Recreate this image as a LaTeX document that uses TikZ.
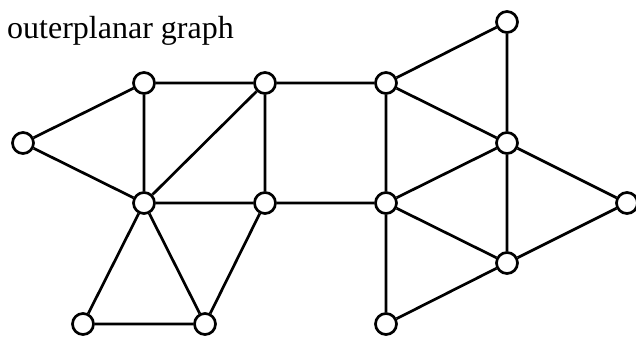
\documentclass[tikz,border=0pt]{standalone}
\usepackage{fontspec}
\setmainfont{Liberation Serif}
\usepackage{tikz}
\usetikzlibrary{positioning}
\tikzset{
  vtx/.style={circle,draw,fill=white,line width=2.7pt,minimum size=21pt,inner sep=0pt},
  edge/.style={line width=2.7pt}
}

\begin{document}
\begin{tikzpicture}[x=1pt,y=-1pt]
    \useasboundingbox (0,0) rectangle (636,337);
    \node[anchor=base west,font=\fontsize{32}{36}\selectfont,inner sep=0pt] (title) at (7,38) {outerplanar graph};
    % left part
    \node[vtx] (a) at (23,143) {};
    \node[vtx] (b) at (144,83) {};
    \node[vtx] (c) at (265,83) {};
    \node[vtx] (h) at (144,203) {};
    \node[vtx] (i) at (265,203) {};
    \node[vtx] (l) at (83,324) {};
    \node[vtx] (m) at (205,324) {};
    % right part
    \node[vtx] (d) at (386,83) {};
    \node[vtx] (e) at (507,22) {};
    \node[vtx] (f) at (507,143) {};
    \node[vtx] (g) at (627,203) {};
    \node[vtx] (j) at (386,203) {};
    \node[vtx] (k) at (507,263) {};
    \node[vtx] (n) at (386,324) {};
    \draw[edge] (a) -- (b) (a) -- (h) (b) -- (c) (b) -- (h) (c) -- (h) (c) -- (i) (h) -- (i)
      (h) -- (l) (h) -- (m) (l) -- (m) (m) -- (i) (c) -- (d) (i) -- (j)
      (d) -- (e) (e) -- (f) (d) -- (f) (d) -- (j) (f) -- (j) (f) -- (g) (f) -- (k)
      (g) -- (k) (j) -- (k) (j) -- (n) (k) -- (n);
  \end{tikzpicture}
\end{document}
